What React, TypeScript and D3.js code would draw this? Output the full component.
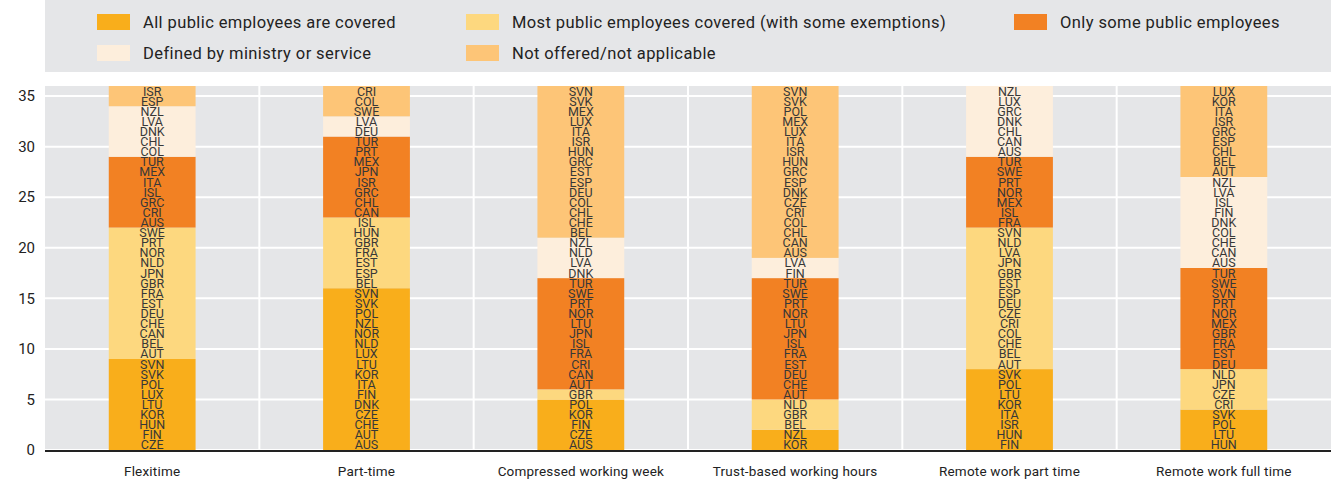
import React from "react";
import * as d3 from "d3";

const categories = [
  "Flexitime",
  "Part-time",
  "Compressed working week",
  "Trust-based working hours",
  "Remote work part time",
  "Remote work full time",
];

const seriesNames = [
  "All public employees are covered",
  "Most public employees covered (with some exemptions)",
  "Only some public employees",
  "Defined by ministry or service",
  "Not offered/not applicable",
];

const seriesColors = ["#F9AE1B", "#FDD87F", "#F28123", "#FDEEDC", "#FDC577"];

// countries per category, per series (bottom to top)
const flexitime = [
  ["CZE", "FIN", "HUN", "KOR", "LTU", "LUX", "POL", "SVK", "SVN"],
  ["AUT", "BEL", "CAN", "CHE", "DEU", "EST", "FRA", "GBR", "JPN", "NLD", "NOR", "PRT", "SWE"],
  ["AUS", "CRI", "GRC", "ISL", "ITA", "MEX", "TUR"],
  ["COL", "CHL", "DNK", "LVA", "NZL"],
  ["ESP", "ISR"],
];
const partTime = [
  ["AUS", "AUT", "CHE", "CZE", "DNK", "FIN", "ITA", "KOR", "LTU", "LUX", "NLD", "NOR", "NZL", "POL", "SVK", "SVN"],
  ["BEL", "ESP", "EST", "FRA", "GBR", "HUN", "ISL"],
  ["CAN", "CHL", "GRC", "ISR", "JPN", "MEX", "PRT", "TUR"],
  ["DEU", "LVA"],
  ["SWE", "COL", "CRI"],
];
const compressed = [
  ["AUS", "CZE", "FIN", "KOR", "POL"],
  ["GBR"],
  ["AUT", "CAN", "CRI", "FRA", "ISL", "JPN", "LTU", "NOR", "PRT", "SWE", "TUR"],
  ["DNK", "LVA", "NLD", "NZL"],
  ["BEL", "CHE", "CHL", "COL", "DEU", "ESP", "EST", "GRC", "HUN", "ISR", "ITA", "LUX", "MEX", "SVK", "SVN"],
];
const trustBased = [
  ["KOR", "NZL"],
  ["BEL", "GBR", "NLD"],
  ["AUT", "CHE", "DEU", "EST", "FRA", "ISL", "JPN", "LTU", "NOR", "PRT", "SWE", "TUR"],
  ["FIN", "LVA"],
  ["AUS", "CAN", "CHL", "COL", "CRI", "CZE", "DNK", "ESP", "GRC", "HUN", "ISR", "ITA", "LUX", "MEX", "POL", "SVK", "SVN"],
];
const remotePart = [
  ["FIN", "HUN", "ISR", "ITA", "KOR", "LTU", "POL", "SVK"],
  ["AUT", "BEL", "CHE", "COL", "CRI", "CZE", "DEU", "ESP", "EST", "GBR", "JPN", "LVA", "NLD", "SVN"],
  ["FRA", "ISL", "MEX", "NOR", "PRT", "SWE", "TUR"],
  ["AUS", "CAN", "CHL", "DNK", "GRC", "LUX", "NZL"],
  [],
];
const remoteFull = [
  ["HUN", "LTU", "POL", "SVK"],
  ["CRI", "CZE", "JPN", "NLD"],
  ["DEU", "EST", "FRA", "GBR", "MEX", "NOR", "PRT", "SVN", "SWE", "TUR"],
  ["AUS", "CAN", "CHE", "COL", "DNK", "FIN", "ISL", "LVA", "NZL"],
  ["AUT", "BEL", "CHL", "ESP", "GRC", "ISR", "ITA", "KOR", "LUX"],
];

const allData = [flexitime, partTime, compressed, trustBased, remotePart, remoteFull];
const yTicks = [0, 5, 10, 15, 20, 25, 30, 35];

const W = 1331;
const H = 482;
const plotLeft = 45;
const plotRight = 1331;
const plotTop = 86;
const plotBottom = 450;
const font = "Roboto, 'Liberation Sans', sans-serif";

export default function App() {
  const x = d3.scaleBand<string>().domain(categories).range([plotLeft, plotRight]).paddingInner(0).paddingOuter(0);
  const y = d3.scaleLinear().domain([0, 36]).range([plotBottom, plotTop]);
  const barW = x.bandwidth() * 0.405;

  const legendItems = [
    { i: 0, x: 97, y: 22 },
    { i: 1, x: 466, y: 22 },
    { i: 2, x: 1014, y: 22 },
    { i: 3, x: 97, y: 53 },
    { i: 4, x: 466, y: 53 },
  ];

  return (
    <svg width={W} height={H} style={{ position: "absolute", left: 0, top: 0, display: "block" }}>
      <rect x={0} y={0} width={W} height={H} fill="#ffffff" />
      {/* legend box */}
      <rect x={plotLeft} y={0} width={plotRight - plotLeft} height={72} fill="#E5E6E8" />
      {legendItems.map((it) => (
        <g key={it.i}>
          <rect x={it.x} y={it.y - 8} width={33} height={16} fill={seriesColors[it.i]} />
          <text
            x={it.x + 46}
            y={it.y}
            dy="0.35em"
            fontFamily={font}
            fontSize={16.5}
            letterSpacing={0.4}
            fill="#222"
          >
            {seriesNames[it.i]}
          </text>
        </g>
      ))}
      {/* plot background */}
      <rect x={plotLeft} y={plotTop} width={plotRight - plotLeft} height={plotBottom - plotTop} fill="#E5E6E8" />
      {yTicks.map((t) => (
        <line key={t} x1={plotLeft} x2={plotRight} y1={y(t)} y2={y(t)} stroke="#ffffff" strokeWidth={2} />
      ))}
      {categories.slice(1).map((c) => (
        <line key={c} x1={x(c)!} x2={x(c)!} y1={plotTop} y2={plotBottom} stroke="#ffffff" strokeWidth={2} />
      ))}
      {yTicks.map((t) => (
        <text
          key={t}
          x={35}
          y={y(t)}
          dy="0.35em"
          textAnchor="end"
          fontFamily={font}
          fontSize={15}
          fill="#222"
        >
          {t}
        </text>
      ))}
      {/* bars */}
      {allData.map((groups, ci) => {
        const cx = x(categories[ci])! + x.bandwidth() / 2;
        let cum = 0;
        const els: React.ReactNode[] = [];
        groups.forEach((countries, si) => {
          const start = cum;
          cum += countries.length;
          if (countries.length > 0) {
            els.push(
              <rect
                key={`r${si}`}
                x={cx - barW / 2}
                y={y(cum)}
                width={barW}
                height={y(start) - y(cum)}
                fill={seriesColors[si]}
              />
            );
          }
          countries.forEach((name, k) => {
            els.push(
              <text
                key={`t${si}-${k}`}
                x={cx}
                y={y(start + k + 0.5)}
                dy="0.36em"
                textAnchor="middle"
                fontFamily={font}
                fontSize={12.5}
                fill="#383838"
              >
                {name}
              </text>
            );
          });
        });
        return <g key={ci}>{els}</g>;
      })}
      <line x1={plotLeft} x2={plotRight} y1={plotBottom + 1} y2={plotBottom + 1} stroke="#222" strokeWidth={2} />
      {categories.map((c) => (
        <text
          key={c}
          x={x(c)! + x.bandwidth() / 2}
          y={471}
          dy="0.35em"
          textAnchor="middle"
          fontFamily={font}
          fontSize={13.5}
          letterSpacing={0.2}
          fill="#222"
        >
          {c}
        </text>
      ))}
    </svg>
  );
}
